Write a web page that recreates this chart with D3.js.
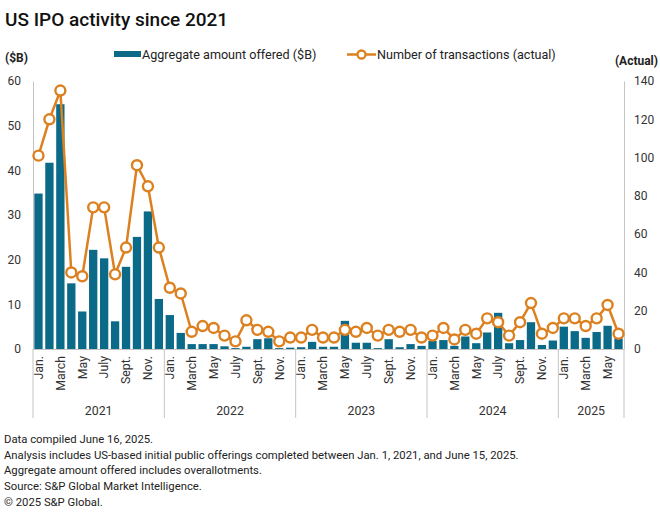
<!DOCTYPE html>
<html>
<head>
<meta charset="utf-8">
<script src="https://cdn.jsdelivr.net/npm/d3@7"></script>
<style>
  body { margin: 0; background: #fff; }
  svg { font-family: Roboto, "Liberation Sans", sans-serif; }
</style>
</head>
<body>
<div id="chart"></div>
<script>
/* DATA */
const years = ["2021", "2022", "2023", "2024", "2025"];
const monthNames = ["Jan.", "Feb.", "March", "April", "May", "June",
                    "July", "Aug.", "Sept.", "Oct.", "Nov.", "Dec."];

// aggregate amount offered ($B), Jan. 2021 - June 2025
const amounts = [
  34.8, 41.7, 54.8, 14.7, 8.4, 22.2, 20.3, 6.2, 18.4, 25.1, 30.8, 11.2,
  7.6, 3.6, 1.1, 1.1, 1.1, 0.6, 0.2, 0.5, 2.2, 2.4, 0.2, 0.3,
  0.4, 1.6, 0.5, 0.5, 6.3, 1.4, 1.4, 0.2, 2.2, 0.4, 1.1, 0.7,
  1.8, 2.0, 0.7, 2.8, 1.3, 3.7, 8.1, 1.3, 2.0, 6.0, 0.9, 1.9,
  5.0, 4.0, 2.5, 3.8, 5.2, 2.4
];

// number of transactions (actual)
const counts = [
  101, 120, 135, 40, 38, 74, 74, 39, 53, 96, 85, 53,
  32, 29, 9, 12, 11, 7, 4, 15, 10, 9, 4, 6,
  6, 10, 6, 6, 10, 9, 11, 7, 10, 9, 10, 6,
  7, 11, 5, 10, 8, 16, 14, 7, 14, 24, 8, 11,
  16, 16, 12, 16, 23, 8
];

const leftTicks = [0, 10, 20, 30, 40, 50, 60];
const rightTicks = [0, 20, 40, 60, 80, 100, 120, 140];

const notes = [
  "Data compiled June 16, 2025.",
  "Analysis includes US-based initial public offerings completed between Jan. 1, 2021, and June 15, 2025.",
  "Aggregate amount offered includes overallotments.",
  "Source: S&P Global Market Intelligence.",
  "\u00A9 2025 S&P Global."
];

/* CONSTANTS */
const width = 660, height = 518;
const plot = { left: 33, right: 624, top: 81, bottom: 349 };
const barColor = "#0b6a87";
const lineColor = "#dc8020";
const axisColor = "#c4c4c4";
const textColor = "#222";

const months = amounts.map((d, i) => ({
  i: i,
  year: years[Math.floor(i / 12)],
  month: monthNames[i % 12],
  amount: d,
  count: counts[i]
}));

const svg = d3.select("#chart").append("svg")
  .attr("width", width)
  .attr("height", height);

/* SCALES */
const xScale = d3.scaleBand()
  .domain(months.map(d => d.i))
  .range([plot.left, plot.right])
  .paddingInner(0.24)
  .paddingOuter(0.12);

const yLeft = d3.scaleLinear().domain([0, 60]).range([plot.bottom, plot.top]);
const yRight = d3.scaleLinear().domain([0, 140]).range([plot.bottom, plot.top]);

/* TITLE */
svg.append("text")
  .attr("x", 5).attr("y", 26)
  .attr("font-size", 19).attr("font-weight", 500)
  .attr("fill", "#111")
  .text("US IPO activity since 2021");

svg.append("text")
  .attr("x", 5).attr("y", 62)
  .attr("font-size", 12).attr("font-weight", 700)
  .attr("fill", textColor)
  .text("($B)");

svg.append("text")
  .attr("x", 658).attr("y", 65)
  .attr("text-anchor", "end")
  .attr("font-size", 12).attr("font-weight", 700)
  .attr("fill", textColor)
  .text("(Actual)");

/* LEGEND */
const legend = svg.append("g").attr("font-size", 12.6).attr("fill", textColor);
legend.append("rect")
  .attr("x", 114).attr("y", 51).attr("width", 27).attr("height", 6)
  .attr("fill", barColor);
legend.append("text").attr("x", 142).attr("y", 59)
  .text("Aggregate amount offered ($B)");
legend.append("line")
  .attr("x1", 347).attr("x2", 376).attr("y1", 54.5).attr("y2", 54.5)
  .attr("stroke", lineColor).attr("stroke-width", 2.5);
legend.append("circle")
  .attr("cx", 361.5).attr("cy", 54.5).attr("r", 4)
  .attr("fill", "#fff").attr("stroke", lineColor).attr("stroke-width", 2.3);
legend.append("text").attr("x", 377).attr("y", 59)
  .text("Number of transactions (actual)");

/* AXES */
const leftAxis = svg.append("g")
  .attr("transform", `translate(${plot.left},0)`)
  .call(d3.axisLeft(yLeft).tickValues(leftTicks).tickSize(0).tickPadding(12));
const rightAxis = svg.append("g")
  .attr("transform", `translate(${plot.right},0)`)
  .call(d3.axisRight(yRight).tickValues(rightTicks).tickSize(0).tickPadding(10));

[leftAxis, rightAxis].forEach(ax => {
  ax.select(".domain").attr("stroke", axisColor);
  ax.selectAll("text")
    .attr("font-size", 12)
    .attr("fill", "#333")
    .attr("font-family", "Roboto, sans-serif");
});

/* BARS */
svg.append("g").selectAll("rect")
  .data(months)
  .join("rect")
  .attr("x", d => xScale(d.i))
  .attr("width", xScale.bandwidth())
  .attr("y", d => yLeft(d.amount))
  .attr("height", d => yLeft(0) - yLeft(d.amount))
  .attr("fill", barColor);

/* X AXIS (months + years) */
svg.append("line")
  .attr("x1", plot.left).attr("x2", plot.right)
  .attr("y1", plot.bottom + 0.5).attr("y2", plot.bottom + 0.5)
  .attr("stroke", axisColor);

const cx = d => xScale(d.i) + xScale.bandwidth() / 2;

svg.append("g").selectAll("text")
  .data(months.filter(d => d.i % 2 === 0))
  .join("text")
  .attr("transform", d => `translate(${cx(d)},${plot.bottom + 7}) rotate(-90)`)
  .attr("text-anchor", "end")
  .attr("dy", "0.35em")
  .attr("font-size", 12.3)
  .attr("fill", "#333")
  .text(d => d.month);

const step = xScale.step();
const yearBounds = years.map((y, k) => {
  const first = months.filter(d => d.year === y);
  const x0 = xScale(first[0].i) - xScale.paddingInner() * step / 2;
  const x1 = xScale(first[first.length - 1].i) + xScale.bandwidth() + xScale.paddingInner() * step / 2;
  return { year: y, x0: Math.max(plot.left, x0), x1: Math.min(plot.right, x1) };
});

svg.append("g").selectAll("line")
  .data([yearBounds[0].x0].concat(yearBounds.map(d => d.x1)))
  .join("line")
  .attr("x1", d => d).attr("x2", d => d)
  .attr("y1", plot.bottom).attr("y2", 418)
  .attr("stroke", axisColor);

svg.append("g").selectAll("text")
  .data(yearBounds)
  .join("text")
  .attr("x", d => (d.x0 + d.x1) / 2)
  .attr("y", 415)
  .attr("text-anchor", "middle")
  .attr("font-size", 12.3)
  .attr("fill", "#333")
  .text(d => d.year);

/* LINE */
const lineGen = d3.line()
  .x(d => cx(d))
  .y(d => yRight(d.count));

svg.append("path")
  .datum(months)
  .attr("d", lineGen)
  .attr("fill", "none")
  .attr("stroke", lineColor)
  .attr("stroke-width", 2.5)
  .attr("stroke-linejoin", "round");

svg.append("g").selectAll("circle")
  .data(months)
  .join("circle")
  .attr("cx", d => cx(d))
  .attr("cy", d => yRight(d.count))
  .attr("r", 5)
  .attr("fill", "#fff")
  .attr("stroke", lineColor)
  .attr("stroke-width", 2.4);

/* FOOTNOTES */
svg.append("g").selectAll("text")
  .data(notes)
  .join("text")
  .attr("x", 4)
  .attr("y", (d, i) => 443 + i * 15.7)
  .attr("font-size", 11.3)
  .attr("fill", textColor)
  .text(d => d);
</script>
</body>
</html>
